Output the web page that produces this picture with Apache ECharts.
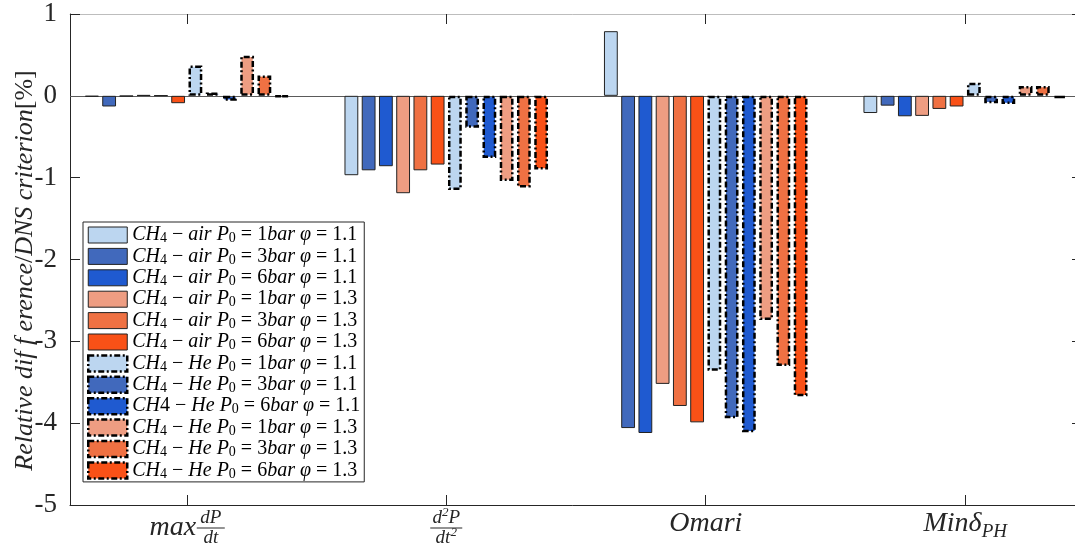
<!DOCTYPE html>
<html><head><meta charset="utf-8">
<script src="https://cdn.jsdelivr.net/npm/echarts@6/dist/echarts.min.js"></script>
<style>html,body{margin:0;padding:0;background:#fff;overflow:hidden}#c{width:1075px;height:546px}</style>
</head><body><div id="c"></div>
<script>
// ---- data ----
const categories = ['max dP/dt', 'd2P/dt2', 'Omari', 'Min deltaPH'];
const categoryX = [1, 2, 3, 4];
const yTickValues = [-5, -4, -3, -2, -1, 0, 1];

const gases = ['air', 'air', 'air', 'air', 'air', 'air', 'He', 'He', 'He', 'He', 'He', 'He'];
const pressures = ['1', '3', '6', '1', '3', '6', '1', '3', '6', '1', '3', '6'];
const phis = ['1.1', '1.1', '1.1', '1.3', '1.3', '1.3', '1.1', '1.1', '1.1', '1.3', '1.3', '1.3'];
const subscriptCH = [true, true, true, true, true, true, true, true, false, true, true, true];

const airP1phi11 = [-0.01, -0.97, 0.79, -0.21];
const airP3phi11 = [-0.13, -0.91, -4.06, -0.12];
const airP6phi11 = [-0.005, -0.86, -4.12, -0.25];
const airP1phi13 = [0.01, -1.19, -3.52, -0.245];
const airP3phi13 = [0.005, -0.91, -3.79, -0.16];
const airP6phi13 = [-0.09, -0.84, -3.99, -0.13];
const heP1phi11 = [0.37, -1.15, -3.36, 0.16];
const heP3phi11 = [0.04, -0.39, -3.94, -0.09];
const heP6phi11 = [-0.06, -0.76, -4.11, -0.10];
const heP1phi13 = [0.49, -1.04, -2.74, 0.12];
const heP3phi13 = [0.25, -1.12, -3.30, 0.12];
const heP6phi13 = [-0.01, -0.90, -3.67, -0.03];
const seriesValues = [airP1phi11, airP3phi11, airP6phi11, airP1phi13, airP3phi13, airP6phi13,
                      heP1phi11, heP3phi11, heP6phi11, heP1phi13, heP3phi13, heP6phi13];

// ---- styles ----
const palette = ['#BCD6F0', '#4169BC', '#1F5AD0', '#EE9D82', '#EF7143', '#F95117'];
const SERIF = 'Liberation Serif';
const INK = '#262626';
const dashDot = [6, 2.5, 2, 2.5];

const seriesNames = gases.map((g, i) => `CH${subscriptCH[i] ? '₄' : '4'} − ${g} P₀ = ${pressures[i]}bar φ = ${phis[i]}`);

function legendRich(i) {
  const ch = subscriptCH[i] ? '{i|CH}{s|4}' : '{i|CH}{n|4}';
  return `${ch}{n| − }{i|${gases[i]}}{n| }{i|P}{s|0}{n| = ${pressures[i]}}{i|bar}{n| }{i|φ}{n| = ${phis[i]}}`;
}

function styleFor(i) {
  const he = i >= 6;
  return he
    ? { color: palette[i % 6], borderColor: '#000', borderWidth: 2.5, borderType: dashDot }
    : { color: palette[i % 6], borderColor: '#222', borderWidth: 1, borderType: 'solid' };
}

const xLabelRich = [
  '{pm|}{num|dP}\n{mx|max}{fb|}\n{pm|}{den|dt}',
  '{n2|d}{sup|2}{n2|P}\n{fb2|}\n{n2|dt}{sup|2}',
  '{om|Omari}',
  '{om|Minδ}{sub4|PH}'
];

const series = seriesValues.map((vals, i) => {
  const s = {
    name: seriesNames[i],
    type: 'bar',
    xAxisIndex: 0,
    yAxisIndex: 0,
    barWidth: 13.8,
    barGap: '25%',
    data: categoryX.map((x, k) => [x, vals[k]]),
    itemStyle: styleFor(i),
    z: 3
  };
  if (i === 0) {
    s.markLine = {
      silent: true, symbol: ['none', 'none'], label: { show: false },
      lineStyle: { color: '#5a5a5a', width: 1, type: 'solid' },
      data: [{ yAxis: 0 }], z: 1
    };
  }
  return s;
});

const chart = echarts.init(document.getElementById('c'), null, { renderer: 'canvas' });
chart.setOption({
  animation: false,
  backgroundColor: '#fff',
  grid: { left: 70, width: 1012, top: 14, bottom: 41, containLabel: false, outerBoundsMode: 'none' },
  xAxis: [
    {
      type: 'value', position: 'bottom', min: 0.55, max: 4.45,
      axisLine: { show: true, onZero: false, lineStyle: { color: INK, width: 1 } },
      axisTick: { show: true, inside: true, length: 10, customValues: categoryX, lineStyle: { color: INK } },
      splitLine: { show: false },
      axisLabel: {
        show: true, customValues: categoryX, margin: 4, color: INK,
        fontFamily: SERIF, fontSize: 28, fontStyle: 'italic',
        formatter: v => xLabelRich[categoryX.indexOf(v)] || '',
        rich: {
          pm: { width: 48, lineHeight: 18, fontSize: 19 },
          num: { width: 28, align: 'center', lineHeight: 18, fontSize: 19, fontStyle: 'italic', fontFamily: SERIF, color: INK },
          den: { width: 28, align: 'center', lineHeight: 18, fontSize: 19, fontStyle: 'italic', fontFamily: SERIF, color: INK },
          mx: { width: 48, align: 'center', lineHeight: 2, fontSize: 28, fontStyle: 'italic', fontFamily: SERIF, color: INK },
          fb: { width: 28, height: 1, lineHeight: 2, backgroundColor: INK },
          n2: { lineHeight: 18, fontSize: 19, fontStyle: 'italic', fontFamily: SERIF, color: INK },
          sup: { lineHeight: 18, height: 8, verticalAlign: 'top', fontSize: 13, fontFamily: SERIF, color: INK },
          fb2: { width: 32, height: 1, lineHeight: 2, backgroundColor: INK },
          om: { lineHeight: 30, fontSize: 28, fontStyle: 'italic', fontFamily: SERIF, color: INK },
          sub4: { lineHeight: 30, height: 14, verticalAlign: 'bottom', fontSize: 19, fontStyle: 'italic', fontFamily: SERIF, color: INK }
        }
      }
    },
    {
      type: 'value', position: 'top', min: 0.55, max: 4.45,
      axisLine: { show: true, onZero: false, lineStyle: { color: '#bdbdbd', width: 1 } },
      axisTick: { show: true, inside: true, length: 10, customValues: categoryX, lineStyle: { color: INK } },
      axisLabel: { show: false },
      splitLine: { show: false }
    }
  ],
  yAxis: [
    {
      type: 'value', position: 'left', min: -5, max: 1, interval: 1,
      axisLine: { show: true, onZero: false, lineStyle: { color: INK, width: 1 } },
      axisTick: { show: true, inside: true, length: 10, lineStyle: { color: INK } },
      splitLine: { show: false },
      axisLabel: { margin: 13, color: INK, fontFamily: SERIF, fontSize: 27 },
      name: '{i|Relative dif f erence}{n|/}{i|DNS criterion}{n|[%]}',
      nameLocation: 'middle', nameRotate: 90, nameGap: 31, nameMoveOverlap: false,
      nameTextStyle: {
        color: INK, fontFamily: SERIF, fontSize: 26, padding: [0, 22, 0, 0],
        rich: {
          i: { fontFamily: SERIF, fontSize: 26, fontStyle: 'italic', color: INK, lineHeight: 28 },
          n: { fontFamily: SERIF, fontSize: 26, color: INK, lineHeight: 28 }
        }
      }
    },
    {
      type: 'value', position: 'right', min: -5, max: 1, interval: 1,
      axisLine: { show: true, onZero: false, lineStyle: { color: INK, width: 1 } },
      axisTick: { show: true, inside: true, length: 10, lineStyle: { color: INK } },
      axisLabel: { show: false },
      splitLine: { show: false }
    }
  ],
  legend: {
    orient: 'vertical', left: 83, top: 222,
    padding: [3, 4, 1, 4],
    itemWidth: 39, itemHeight: 16, itemGap: 0.9,
    backgroundColor: '#fff', borderColor: INK, borderWidth: 1,
    selectedMode: false,
    data: seriesNames.map((n, i) => ({ name: n, icon: 'rect', itemStyle: styleFor(i) })),
    formatter: n => legendRich(seriesNames.indexOf(n)),
    textStyle: {
      color: '#000', fontFamily: SERIF, fontSize: 20,
      rich: {
        i: { fontFamily: SERIF, fontSize: 20, fontStyle: 'italic', color: '#000', lineHeight: 16, height: 16 },
        n: { fontFamily: SERIF, fontSize: 20, color: '#000', lineHeight: 16, height: 16 },
        s: { fontFamily: SERIF, fontSize: 14, color: '#000', lineHeight: 16, height: 9, verticalAlign: 'bottom' }
      }
    }
  },
  series: series
});
</script>
</body></html>
